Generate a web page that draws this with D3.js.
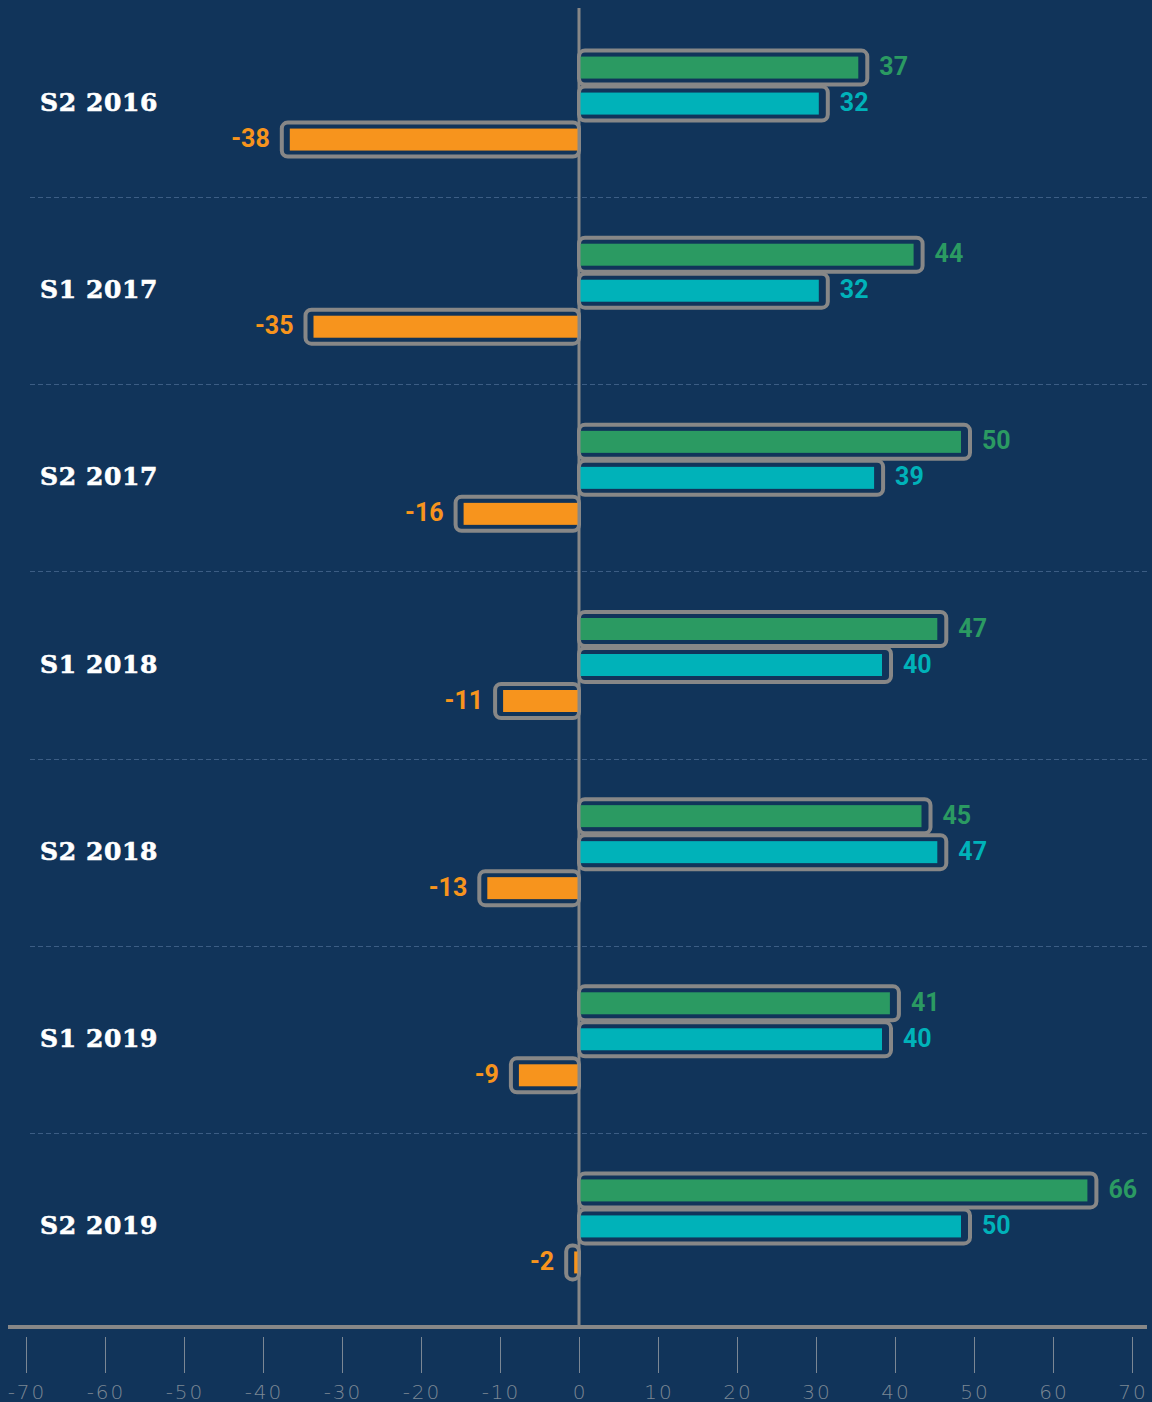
<!DOCTYPE html>
<html>
<head>
<meta charset="utf-8">
<script src="https://cdn.jsdelivr.net/npm/d3@7"></script>
<style>
  html, body { margin: 0; padding: 0; background: #11345a; }
  svg { display: block; }
</style>
</head>
<body>
<div id="chart"></div>
<script>
// data
var periods = ["S2 2016", "S1 2017", "S2 2017", "S1 2018", "S2 2018", "S1 2019", "S2 2019"];
var greenVals = [37, 44, 50, 47, 45, 41, 66];
var cyanVals = [32, 32, 39, 40, 47, 40, 50];
var orangeVals = [-38, -35, -16, -11, -13, -9, -2];
var tickVals = [-70, -60, -50, -40, -30, -20, -10, 0, 10, 20, 30, 40, 50, 60, 70];

var series = [
    {key: "green", color: "#2b9a62", vals: greenVals},
    {key: "cyan", color: "#00b2b9", vals: cyanVals},
    {key: "orange", color: "#f7941d", vals: orangeVals}
];

var width = 1152, height = 1402;
var gray = "#878787";

var svg = d3.select("#chart")
    .append("svg")
    .attr("width", width)
    .attr("height", height);

svg.append("rect")
    .attr("width", width)
    .attr("height", height)
    .attr("fill", "#11345a");

var x = d3.scaleLinear()
    .domain([-70, 70])
    .range([26, 1132]);

var y = d3.scaleBand()
    .domain(periods)
    .range([10, 1320]);

// position of each series inside a band
var inner = d3.scalePoint()
    .domain(series.map(function (s) { return s.key; }))
    .range([-36, 36]);

// dashed separators between groups
svg.append("g")
    .selectAll("line")
    .data(periods.slice(1))
    .join("line")
    .attr("x1", 30)
    .attr("x2", 1150)
    .attr("y1", function (d) { return Math.round(y(d)) + 0.5; })
    .attr("y2", function (d) { return Math.round(y(d)) + 0.5; })
    .attr("stroke", "#3c5d84")
    .attr("stroke-width", 1)
    .attr("stroke-dasharray", "5,3");

// category labels
svg.append("g")
    .selectAll("text")
    .data(periods)
    .join("text")
    .attr("x", 40)
    .attr("y", function (d) { return y(d) + y.bandwidth() / 2 + 1; })
    .attr("dominant-baseline", "middle")
    .attr("fill", "#ffffff")
    .attr("stroke", "#ffffff")
    .attr("stroke-width", 0.6)
    .style("font-family", "'DejaVu Serif', serif")
    .style("font-weight", "bold")
    .style("font-size", "25px")
    .style("letter-spacing", "0.6px")
    .text(function (d) { return d; });

var x0 = x(0);

// flatten to one item per bar
var bars = [];
series.forEach(function (s) {
    s.vals.forEach(function (v, i) {
        bars.push({period: periods[i], key: s.key, color: s.color, v: v});
    });
});

function cy(d) {
    return y(d.period) + y.bandwidth() / 2 + inner(d.key);
}

var barG = svg.append("g");

// outline boxes
barG.selectAll("rect.outline")
    .data(bars)
    .join("rect")
    .attr("class", "outline")
    .attr("x", function (d) { return d.v >= 0 ? x0 : x(d.v) + 3; })
    .attr("width", function (d) { return d.v >= 0 ? x(d.v) - 4 - x0 : x0 - x(d.v) - 3; })
    .attr("y", function (d) { return cy(d) - 17; })
    .attr("height", 34)
    .attr("rx", 6)
    .attr("fill", "none")
    .attr("stroke", gray)
    .attr("stroke-width", 4);

// filled bars
barG.selectAll("rect.fill")
    .data(bars)
    .join("rect")
    .attr("class", "fill")
    .attr("x", function (d) { return d.v >= 0 ? x0 + 1 : x(d.v) + 11; })
    .attr("width", function (d) {
        return d.v >= 0 ? Math.max(0, x(d.v) - 14 - x0) : Math.max(0, x0 - 1 - (x(d.v) + 11));
    })
    .attr("y", function (d) { return cy(d) - 11; })
    .attr("height", 22)
    .attr("fill", function (d) { return d.color; });

// value labels
barG.selectAll("text")
    .data(bars)
    .join("text")
    .attr("x", function (d) { return d.v >= 0 ? x(d.v) + 8 : x(d.v) - 9; })
    .attr("y", function (d) { return cy(d) + 1; })
    .attr("text-anchor", function (d) { return d.v >= 0 ? "start" : "end"; })
    .attr("dominant-baseline", "middle")
    .attr("fill", function (d) { return d.color; })
    .style("font-family", "Roboto, sans-serif")
    .style("font-weight", "bold")
    .style("font-size", "25px")
    .text(function (d) { return d.v; });

// zero line
svg.append("line")
    .attr("x1", x0)
    .attr("x2", x0)
    .attr("y1", 8)
    .attr("y2", 1329)
    .attr("stroke", gray)
    .attr("stroke-width", 3);

// bottom axis line
svg.append("line")
    .attr("x1", 8)
    .attr("x2", 1147)
    .attr("y1", 1327)
    .attr("y2", 1327)
    .attr("stroke", gray)
    .attr("stroke-width", 4);

// ticks and tick labels
var axis = svg.append("g").attr("transform", "translate(0,1337)");
axis.selectAll("line")
    .data(tickVals)
    .join("line")
    .attr("x1", function (d) { return Math.round(x(d)) + 0.5; })
    .attr("x2", function (d) { return Math.round(x(d)) + 0.5; })
    .attr("y1", 0)
    .attr("y2", 36)
    .attr("stroke", "#7b8794")
    .attr("stroke-width", 1);

axis.selectAll("text")
    .data(tickVals)
    .join("text")
    .attr("x", function (d) { return x(d) + 1; })
    .attr("y", 62)
    .attr("text-anchor", "middle")
    .attr("fill", "#7b8794")
    .style("font-family", "'DejaVu Sans', sans-serif")
    .style("font-weight", "200")
    .style("font-size", "20px")
    .style("letter-spacing", "2px")
    .text(function (d) { return d; });
</script>
</body>
</html>
